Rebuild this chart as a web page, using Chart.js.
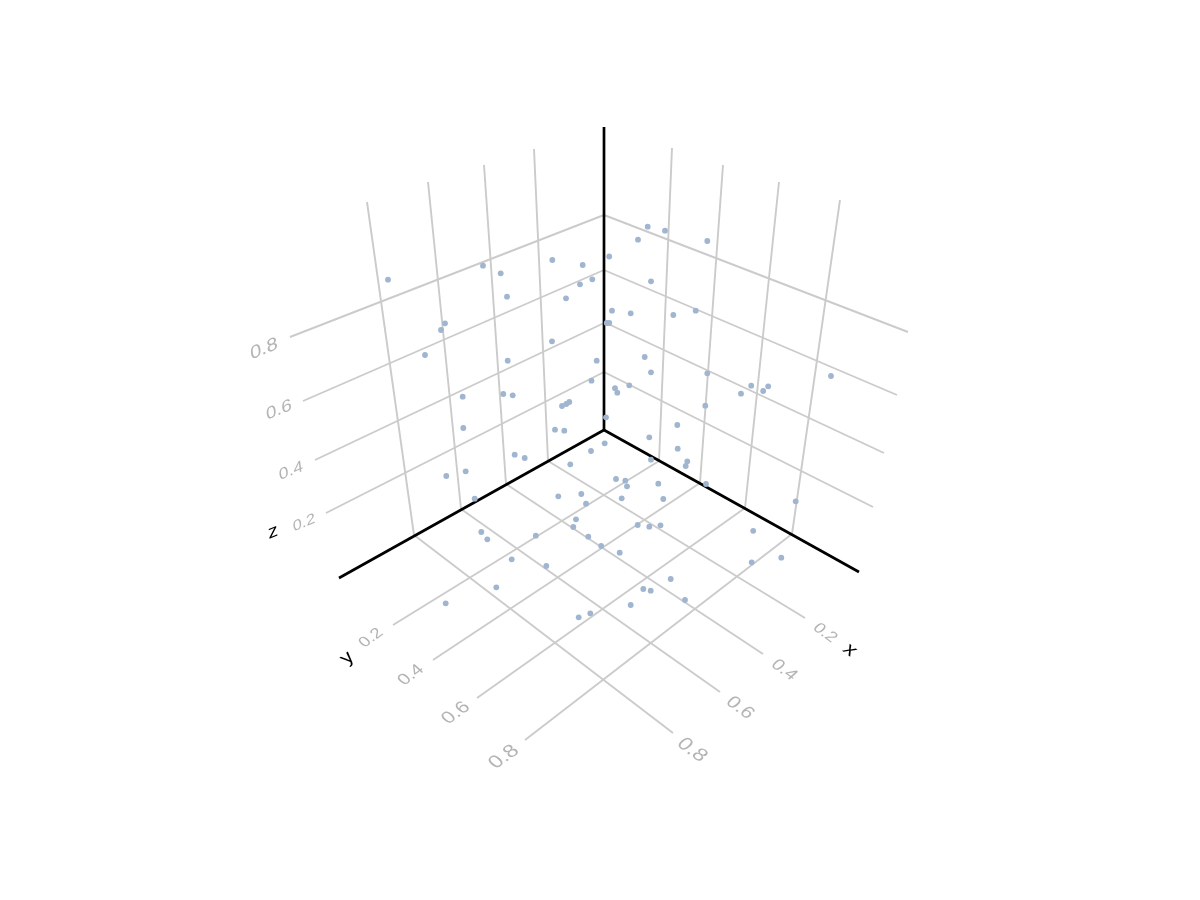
<!DOCTYPE html>
<html>
<head>
<meta charset="utf-8">
<title>3D scatter</title>
<script src="https://cdn.jsdelivr.net/npm/chart.js@4"></script>
<style>
  html, body { margin: 0; padding: 0; background: #fff; }
  canvas { display: block; }
</style>
</head>
<body>
<canvas id="scatter3d" width="1200" height="900"></canvas>
<script>
const pointU = [388, 483, 500.7, 507, 552.3, 582.7, 592.3, 580, 566, 445, 441, 425, 507.7, 552, 596.7, 591.5, 609.2, 606.7, 609.3, 647.7, 665, 638, 707.3, 651, 612, 630.7, 673.3, 695.7, 644.7, 651, 707.3, 751.2, 768.2, 763.2, 831, 615, 617.3, 629.3, 741, 705.3, 462.7, 503.3, 512.7, 562, 566.3, 569.3, 606, 463.3, 555, 564.3, 604.7, 591, 514.7, 524.7, 570.3, 446.3, 465.7, 474.7, 558.3, 581.3, 586, 576, 573.3, 535.8, 481.3, 487.3, 588.3, 601.2, 619.7, 677.3, 649.3, 677.7, 687.3, 685.7, 651, 616, 625.3, 627, 658.3, 706, 621.7, 663.3, 795.7, 637.7, 649.3, 660.5, 753.2, 781.3, 751.7, 511.7, 546.3, 496.3, 445.7, 670.7, 643.3, 650.7, 685, 630.7, 590.3, 578.7];
const pointV = [279.7, 265.7, 273.3, 296.7, 260, 265, 279.3, 284.3, 298.3, 323.3, 330, 355, 360.7, 341.3, 360.7, 380.7, 256.5, 323, 323, 226.7, 230.7, 239.7, 241, 281.3, 310.7, 313.3, 315, 310.7, 357, 372.3, 373.3, 385.7, 386.3, 391, 376, 388.2, 392.7, 385.3, 393.7, 405.7, 396.7, 394, 395.3, 406, 404, 402, 417.3, 428, 429.7, 430.7, 443.3, 451, 454.7, 458, 464.3, 476, 471.3, 498.7, 496.3, 494, 503.7, 519.3, 527, 535.7, 532, 539.3, 536.7, 546, 552.7, 425, 437.3, 448.7, 461.3, 466, 459.7, 479, 480.7, 486.3, 483.7, 484, 498.3, 499, 501.3, 525, 526.7, 525.3, 530.8, 557.7, 562.3, 559.3, 566, 587.3, 603.3, 579, 589, 590.7, 600, 605, 613.3, 617.3];

// Grid lines: start and end on the projected plane
const gridStartU = [604, 604, 604, 604, 604, 604, 604, 604, 367, 428, 484, 534, 672, 723, 779, 840, 414, 461, 506, 548, 659, 700, 745, 792];
const gridStartV = [215, 270, 323, 372, 215, 270, 322, 372, 202, 182, 165, 149, 148, 165, 182, 200, 535, 509, 484, 461, 461, 483, 508, 534];
const gridEndU = [290, 303, 315, 326, 908, 897, 884, 873, 414, 461, 506, 548, 659, 700, 745, 792, 673, 720, 763, 805, 393, 433, 477, 525];
const gridEndV = [337, 401, 460, 513, 332, 395, 453, 507, 535, 509, 484, 461, 461, 483, 508, 534, 733, 692, 654, 618, 625, 660, 698, 740];

// The three black spines
const spineEndU = [604, 339, 859];
const spineEndV = [127, 578, 572];
const originU = 604;
const originV = 430;

const tickLabels = ['0.2', '0.4', '0.6', '0.8'];
const zTickU = [304, 291, 279, 264];
const zTickV = [523, 471, 410, 349];
const yTickU = [371, 411, 456, 504];
const yTickV = [638, 675, 713, 757];
const xTickU = [825, 784, 740, 692];
const xTickV = [633, 670, 708, 750];

const axisNames = ['x', 'y', 'z'];
const axisNameU = [850, 347, 273];
const axisNameV = [650, 658, 532];

function lineDataset(u0, v0, u1, v1, color, width) {
  return {
    type: 'scatter',
    showLine: true,
    data: [{ x: u0, y: v0 }, { x: u1, y: v1 }],
    borderColor: color,
    borderWidth: width,
    pointRadius: 0,
    fill: false,
  };
}

const datasets = [{
  type: 'scatter',
  data: pointU.map((u, i) => ({ x: u, y: pointV[i] })),
  backgroundColor: '#a0b5cf',
  borderWidth: 0,
  pointRadius: 2.9,
}];
spineEndU.forEach((u, i) => {
  datasets.push(lineDataset(originU, originV, u, spineEndV[i], '#000', 2.7));
});
gridStartU.forEach((u, i) => {
  datasets.push(lineDataset(u, gridStartV[i], gridEndU[i], gridEndV[i], '#cbcbcb', 1.9));
});

// Text lies in the planes of the box, so each label gets its own skewed frame
function drawWarped(ctx, text, px, py, ux, uy, dx, dy, color) {
  ctx.save();
  ctx.translate(px, py);
  ctx.transform(ux, uy, dx, dy, 0, 0);
  ctx.font = '20px "Liberation Sans", Arial, sans-serif';
  ctx.textAlign = 'center';
  ctx.textBaseline = 'middle';
  ctx.fillStyle = color;
  ctx.fillText(text, 0, 0);
  ctx.restore();
}

const labelPlugin = {
  id: 'labels3d',
  afterDatasetsDraw(chart) {
    const ctx = chart.ctx;
    const sx = chart.scales.x;
    const sy = chart.scales.y;
    const grey = '#b4b4b4';
    tickLabels.forEach((label, i) => {
      // perspective makes the labels nearer the viewer larger
      const grow = 0.86 + i * 0.07;
      drawWarped(ctx, label, sx.getPixelForValue(zTickU[i]), sy.getPixelForValue(zTickV[i]),
        0.92 * grow, -0.38 * grow, 0.1 * grow, 0.85 * grow, grey);
      drawWarped(ctx, label, sx.getPixelForValue(yTickU[i]), sy.getPixelForValue(yTickV[i]),
        0.82 * grow, -0.6 * grow, 0.68 * grow, 0.62 * grow, grey);
      drawWarped(ctx, label, sx.getPixelForValue(xTickU[i]), sy.getPixelForValue(xTickV[i]),
        0.82 * grow, 0.6 * grow, -0.68 * grow, 0.62 * grow, grey);
    });
    const frames = [[0.82, 0.6, -0.68, 0.62], [0.82, -0.6, 0.68, 0.62], [0.92, -0.38, 0.1, 0.85]];
    axisNames.forEach((name, i) => {
      const f = frames[i];
      drawWarped(ctx, name, sx.getPixelForValue(axisNameU[i]), sy.getPixelForValue(axisNameV[i]),
        f[0] * 1.05, f[1] * 1.05, f[2] * 1.05, f[3] * 1.05, '#000');
    });
  },
};

new Chart(document.getElementById('scatter3d').getContext('2d'), {
  type: 'scatter',
  data: { datasets },
  plugins: [labelPlugin],
  options: {
    responsive: false,
    animation: false,
    layout: { padding: 0, autoPadding: false },
    plugins: { legend: { display: false }, tooltip: { enabled: false } },
    scales: {
      x: { type: 'linear', min: 0, max: 1200, display: false },
      y: { type: 'linear', min: 0, max: 900, reverse: true, display: false },
    },
  },
});
</script>
</body>
</html>
